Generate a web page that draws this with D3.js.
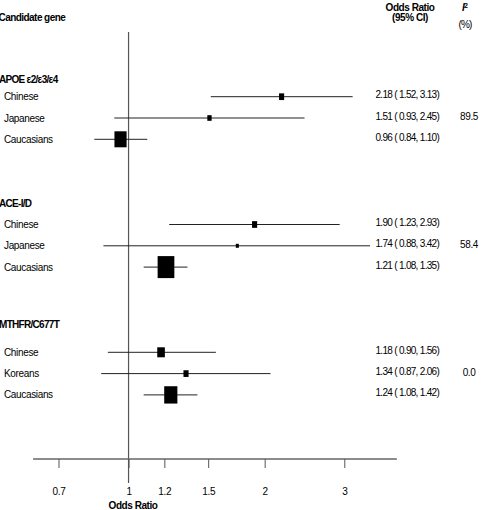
<!DOCTYPE html>
<html>
<head>
<meta charset="utf-8">
<script src="https://cdn.jsdelivr.net/npm/d3@7"></script>
<style>
    body { margin: 0; background: #fff; }
    text { font-family: "Liberation Sans", Arial, sans-serif; fill: #000; }
    .lbl { font-size: 10px; letter-spacing: -0.35px; }
    .hdr { font-size: 10px; font-weight: bold; letter-spacing: -0.7px; }
    .val { font-size: 10px; letter-spacing: -0.7px; }
    .tick text { font-size: 10px; letter-spacing: -0.3px; }
</style>
</head>
<body>
<div id="plot"></div>
<script>
// data
var genes = ["APOE \u03b52/\u03b53/\u03b54", "ACE-I/D", "MTHFR/C677T"];
var populations = [
    ["Chinese", "Japanese", "Caucasians"],
    ["Chinese", "Japanese", "Caucasians"],
    ["Chinese", "Koreans", "Caucasians"]
];
var oddsRatio = [[2.18, 1.51, 0.96], [1.90, 1.74, 1.21], [1.18, 1.34, 1.24]];
var ciLow     = [[1.52, 0.93, 0.84], [1.23, 0.88, 1.08], [0.90, 0.87, 1.08]];
var ciHigh    = [[3.13, 2.45, 1.10], [2.93, 3.42, 1.35], [1.56, 2.06, 1.42]];
var weights   = [[45, 32, 256], [45, 16, 484], [100, 45, 300]];
var iSquared  = ["89.5", "58.4", "0.0"];
var tickValues = [0.7, 1, 1.2, 1.5, 2, 3];
var axisExtent = [0.615, 3.92];

// layout
var width = 484, height = 510;
var groupRow = [-0.8, 5, 10.7];   // header row of each gene
var firstRow = [0, 6, 12];        // first study row of each gene

var svg = d3.select("#plot")
    .append("svg")
    .attr("width", width)
    .attr("height", height);

// x scale (log odds ratio)
let x = d3.scaleLog()
    .domain([0.7, 3])
    .range([58.5, 344.3]);

// y scale on row index
let y = d3.scaleLinear()
    .domain([0, 14])
    .range([96.7, 394.9]);

// side of each box
let s = d3.scaleSqrt()
    .domain([0, 484])
    .range([0, 22]);

// build rows
var rows = [];
genes.forEach(function(g, gi) {
    populations[gi].forEach(function(p, pi) {
        rows.push({
            gene: gi,
            name: p,
            row: firstRow[gi] + pi,
            or: oddsRatio[gi][pi],
            lo: ciLow[gi][pi],
            hi: ciHigh[gi][pi],
            w: weights[gi][pi]
        });
    });
});

// column headers
svg.append("text").attr("class", "hdr").attr("x", -1.5).attr("y", 21)
    .style("letter-spacing", "-0.55px").text("Candidate gene");
svg.append("text").attr("class", "hdr").attr("x", 410).attr("y", 10.5)
    .attr("text-anchor", "middle").style("letter-spacing", "-0.45px").text("Odds Ratio");
svg.append("text").attr("class", "hdr").attr("x", 410).attr("y", 20.5)
    .attr("text-anchor", "middle").style("letter-spacing", "-0.45px").text("(95% CI)");
let i2 = svg.append("text").attr("class", "hdr").attr("x", 462).attr("y", 10.5);
i2.append("tspan").style("font-style", "italic").text("I");
i2.append("tspan").attr("dy", -3).style("font-size", "7px").text("2");
svg.append("text").attr("class", "hdr").attr("x", 465).attr("y", 28)
    .attr("text-anchor", "middle").style("font-weight", "normal").style("letter-spacing", "-0.8px").text("(%)");

// null line at OR = 1
svg.append("line")
    .attr("x1", x(1)).attr("x2", x(1))
    .attr("y1", 32).attr("y2", 483)
    .attr("stroke", "#555")
    .attr("stroke-width", 1.2);

// gene headers
svg.append("g")
    .selectAll("text")
    .data(genes)
    .enter()
    .append("text")
    .attr("class", "hdr")
    .attr("x", -1)
    .attr("y", (d, i) => y(groupRow[i]) + 3.5)
    .text(d => d);

// I squared per gene
svg.append("g")
    .selectAll("text")
    .data(iSquared)
    .enter()
    .append("text")
    .attr("class", "val")
    .attr("x", 469)
    .attr("text-anchor", "middle")
    .style("letter-spacing", "-0.4px")
    .attr("y", (d, i) => y(firstRow[i] + 1) + 2)
    .text(d => d);

// population labels
svg.append("g")
    .selectAll("text")
    .data(rows)
    .enter()
    .append("text")
    .attr("class", "lbl")
    .attr("x", 4)
    .attr("y", d => y(d.row) + 3.5)
    .text(d => d.name);

// confidence intervals
svg.append("g")
    .selectAll("line")
    .data(rows)
    .enter()
    .append("line")
    .attr("x1", d => x(d.lo))
    .attr("x2", d => x(d.hi))
    .attr("y1", d => y(d.row))
    .attr("y2", d => y(d.row))
    .attr("stroke", "#222")
    .attr("stroke-width", 1);

// boxes
svg.append("g")
    .selectAll("rect")
    .data(rows)
    .enter()
    .append("rect")
    .attr("x", d => x(d.or) - s(d.w) * 0.38)
    .attr("y", d => y(d.row) - s(d.w) / 2)
    .attr("width", d => s(d.w) * 0.76)
    .attr("height", d => s(d.w))
    .attr("fill", "#000");

// OR (95% CI) text
var f = d3.format(".2f");
svg.append("g")
    .selectAll("text")
    .data(rows)
    .enter()
    .append("text")
    .attr("class", "val")
    .attr("x", 375.5)
    .attr("y", d => y(d.row) + 1.5)
    .text(d => f(d.or) + " ( " + f(d.lo) + ", " + f(d.hi) + ")");

// x axis
svg.append("line")
    .attr("x1", x(axisExtent[0])).attr("x2", x(axisExtent[1]))
    .attr("y1", 459).attr("y2", 459)
    .attr("stroke", "#666")
    .attr("stroke-width", 1.5);

let xAxis = svg.append("g")
    .attr("transform", "translate(0,459)")
    .call(d3.axisBottom(x)
        .tickValues(tickValues)
        .tickFormat(d3.format(""))
        .tickSize(9)
        .tickPadding(20));
xAxis.select(".domain").remove();
xAxis.selectAll(".tick line").attr("stroke", "#555");
xAxis.selectAll(".tick text").attr("fill", "#000").attr("font-family", null).attr("font-size", null);

svg.append("text")
    .attr("class", "hdr")
    .attr("x", 133)
    .attr("y", 509)
    .attr("text-anchor", "middle")
    .style("letter-spacing", "-0.45px")
    .text("Odds Ratio");
</script>
</body>
</html>
